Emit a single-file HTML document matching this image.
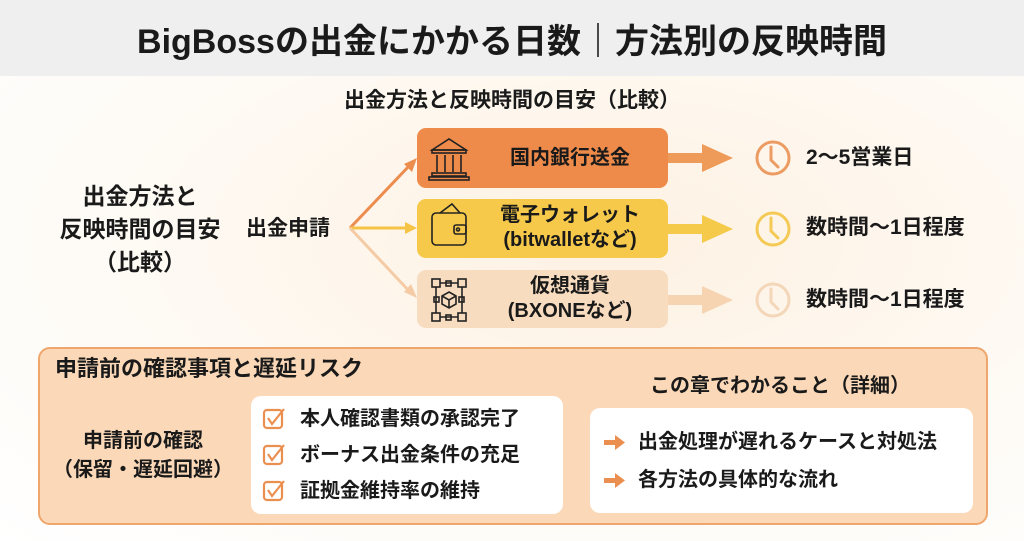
<!DOCTYPE html>
<html><head><meta charset="utf-8"><style>
*{margin:0;padding:0;box-sizing:border-box}
body{width:1024px;height:541px;overflow:hidden;position:relative;font-family:"Liberation Sans","Noto Sans CJK JP",sans-serif;font-weight:bold;color:#1a1a1a;background:radial-gradient(ellipse at 60% 45%,#fdf1e2 0%,#fefaf4 55%,#ffffff 100%)}
.a{position:absolute;white-space:nowrap}
.c{text-align:center}
.hdr{left:0;top:0;width:1024px;height:76px;background:#efefef}
.box{position:absolute;border-radius:9px}
.panel{left:38px;top:347px;width:950px;height:178px;background:#fbd9b8;border:2px solid #eea66c;border-radius:12px}
.wb{position:absolute;background:#fff;border-radius:10px}
</style></head><body>
<div class="a hdr"></div>
<div class="a c" style="left:0;width:1024px;top:20px;font-size:34px;line-height:44px">BigBossの出金にかかる日数｜方法別の反映時間</div>
<div class="a c" style="left:262px;width:500px;top:88px;font-size:21px;line-height:26px">出金方法と反映時間の目安（比較）</div>
<div class="a c" style="left:30px;width:220px;top:180px;font-size:23px;line-height:33px">出金方法と<br>反映時間の目安<br>（比較）</div>
<div class="a" style="left:246px;top:216px;font-size:21px;line-height:26px">出金申請</div>

<div class="box" style="left:417px;top:128px;width:251px;height:60px;background:#ee8b4a"></div>
<div class="box" style="left:417px;top:199px;width:251px;height:59px;background:#f6c94a"></div>
<div class="box" style="left:417px;top:270px;width:251px;height:58px;background:#f8dcc0"></div>
<div class="a c" style="left:470px;width:200px;top:145px;font-size:20px;line-height:26px">国内銀行送金</div>
<div class="a c" style="left:470px;width:200px;top:203px;font-size:20px;line-height:25px">電子ウォレット<br>(bitwalletなど)</div>
<div class="a c" style="left:470px;width:200px;top:274px;font-size:20px;line-height:25px">仮想通貨<br>(BXONEなど)</div>
<div class="a" style="left:806px;top:145px;font-size:21px;line-height:26px">2〜5営業日</div>
<div class="a" style="left:806px;top:215px;font-size:21px;line-height:26px">数時間〜1日程度</div>
<div class="a" style="left:806px;top:287px;font-size:21px;line-height:26px">数時間〜1日程度</div>

<svg class="a" style="left:0;top:0" width="1024" height="541">
<g stroke-width="3" fill="none">
<line x1="350" y1="228" x2="410" y2="165" stroke="#ec8d4f"/>
<line x1="350" y1="228" x2="408" y2="228" stroke="#f5c447"/>
<line x1="350" y1="228" x2="410" y2="292" stroke="#f4cba4"/>
</g>
<polygon points="417,158 404,164 412,172" fill="#ec8d4f"/>
<polygon points="417,228 405,222 405,234" fill="#f5c447"/>
<polygon points="417,298 404,292 411,284" fill="#f4cba4"/>
<g>
<rect x="668" y="153" width="36" height="10" fill="#ee9a58"/><polygon points="702,144 733,158 702,172" fill="#ee9a58"/>
<rect x="668" y="224" width="36" height="10" fill="#f5c94a"/><polygon points="702,215 733,229 702,243" fill="#f5c94a"/>
<rect x="668" y="295" width="36" height="10" fill="#f6d4b2"/><polygon points="702,286 733,300 702,314" fill="#f6d4b2"/>
</g>
<g fill="none" stroke-width="3" stroke-linecap="round">
<circle cx="773" cy="158" r="16" stroke="#ec9c63"/><path d="M771,147 V160 L778,167" stroke="#ec9c63"/>
<circle cx="773" cy="229" r="16" stroke="#f4ca55"/><path d="M771,218 V231 L778,238" stroke="#f4ca55"/>
<circle cx="773" cy="300" r="16" stroke="#f4d6b8"/><path d="M771,289 V302 L778,309" stroke="#f4d6b8"/>
</g>
<g fill="none" stroke="#222" stroke-width="1.6">
<path d="M432,150 L449,139 L466,150 Z"/><rect x="432" y="150" width="34" height="3"/>
<line x1="437" y1="155" x2="437" y2="172"/><line x1="445" y1="155" x2="445" y2="172"/><line x1="453" y1="155" x2="453" y2="172"/><line x1="461" y1="155" x2="461" y2="172"/>
<rect x="432" y="173" width="34" height="3"/><rect x="429" y="177" width="40" height="3"/>
<rect x="432" y="213" width="34" height="32" rx="4"/><path d="M440,213 L452,204 L460,213"/><rect x="454" y="225" width="12" height="9" rx="2"/><circle cx="458" cy="229.5" r="1.5"/>
<rect x="432" y="279" width="8" height="8"/><rect x="458" y="279" width="8" height="8"/><rect x="432" y="313" width="8" height="8"/><rect x="458" y="313" width="8" height="8"/>
<rect x="446" y="281" width="5" height="5"/><rect x="446" y="315" width="5" height="5"/><rect x="434" y="297" width="5" height="5"/><rect x="459" y="297" width="5" height="5"/>
<line x1="440" y1="283" x2="458" y2="283"/><line x1="440" y1="317" x2="458" y2="317"/><line x1="436" y1="287" x2="436" y2="313"/><line x1="462" y1="287" x2="462" y2="313"/>
<path d="M449,292 L456,296 L456,304 L449,308 L442,304 L442,296 Z M442,296 L449,300 L456,296 M449,300 V308"/>
</g>
</svg>

<div class="a panel"></div>
<div class="a" style="left:55px;top:355px;font-size:22px;line-height:28px">申請前の確認事項と遅延リスク</div>
<div class="a c" style="left:40px;width:206px;top:427px;font-size:20px;line-height:29px">申請前の確認<br>（保留・遅延回避）</div>
<div class="wb" style="left:251px;top:396px;width:312px;height:118px"></div>
<div class="wb" style="left:590px;top:408px;width:383px;height:105px"></div>
<div class="a c" style="left:610px;width:340px;top:373px;font-size:20px;line-height:26px">この章でわかること（詳細）</div>
<svg class="a" style="left:0;top:0" width="1024" height="541">
<g fill="none" stroke="#eb8f50" stroke-width="2.2">
<rect x="264" y="410" width="18" height="18" rx="3"/><path d="M268,418 L272,424 L284,409"/>
<rect x="264" y="446" width="18" height="18" rx="3"/><path d="M268,454 L272,460 L284,445"/>
<rect x="264" y="482" width="18" height="18" rx="3"/><path d="M268,490 L272,496 L284,481"/>
</g>
<g fill="#eb8f50">
<rect x="604" y="440" width="12" height="5"/><polygon points="615,435 625,442.5 615,450"/>
<rect x="604" y="478" width="12" height="5"/><polygon points="615,473 625,480.5 615,488"/>
</g>
</svg>
<div class="a" style="left:300px;top:406px;font-size:20px;line-height:26px">本人確認書類の承認完了</div>
<div class="a" style="left:300px;top:442px;font-size:20px;line-height:26px">ボーナス出金条件の充足</div>
<div class="a" style="left:300px;top:478px;font-size:20px;line-height:26px">証拠金維持率の維持</div>
<div class="a" style="left:638px;top:429px;font-size:20px;line-height:26px">出金処理が遅れるケースと対処法</div>
<div class="a" style="left:638px;top:467px;font-size:20px;line-height:26px">各方法の具体的な流れ</div>
</body></html>
